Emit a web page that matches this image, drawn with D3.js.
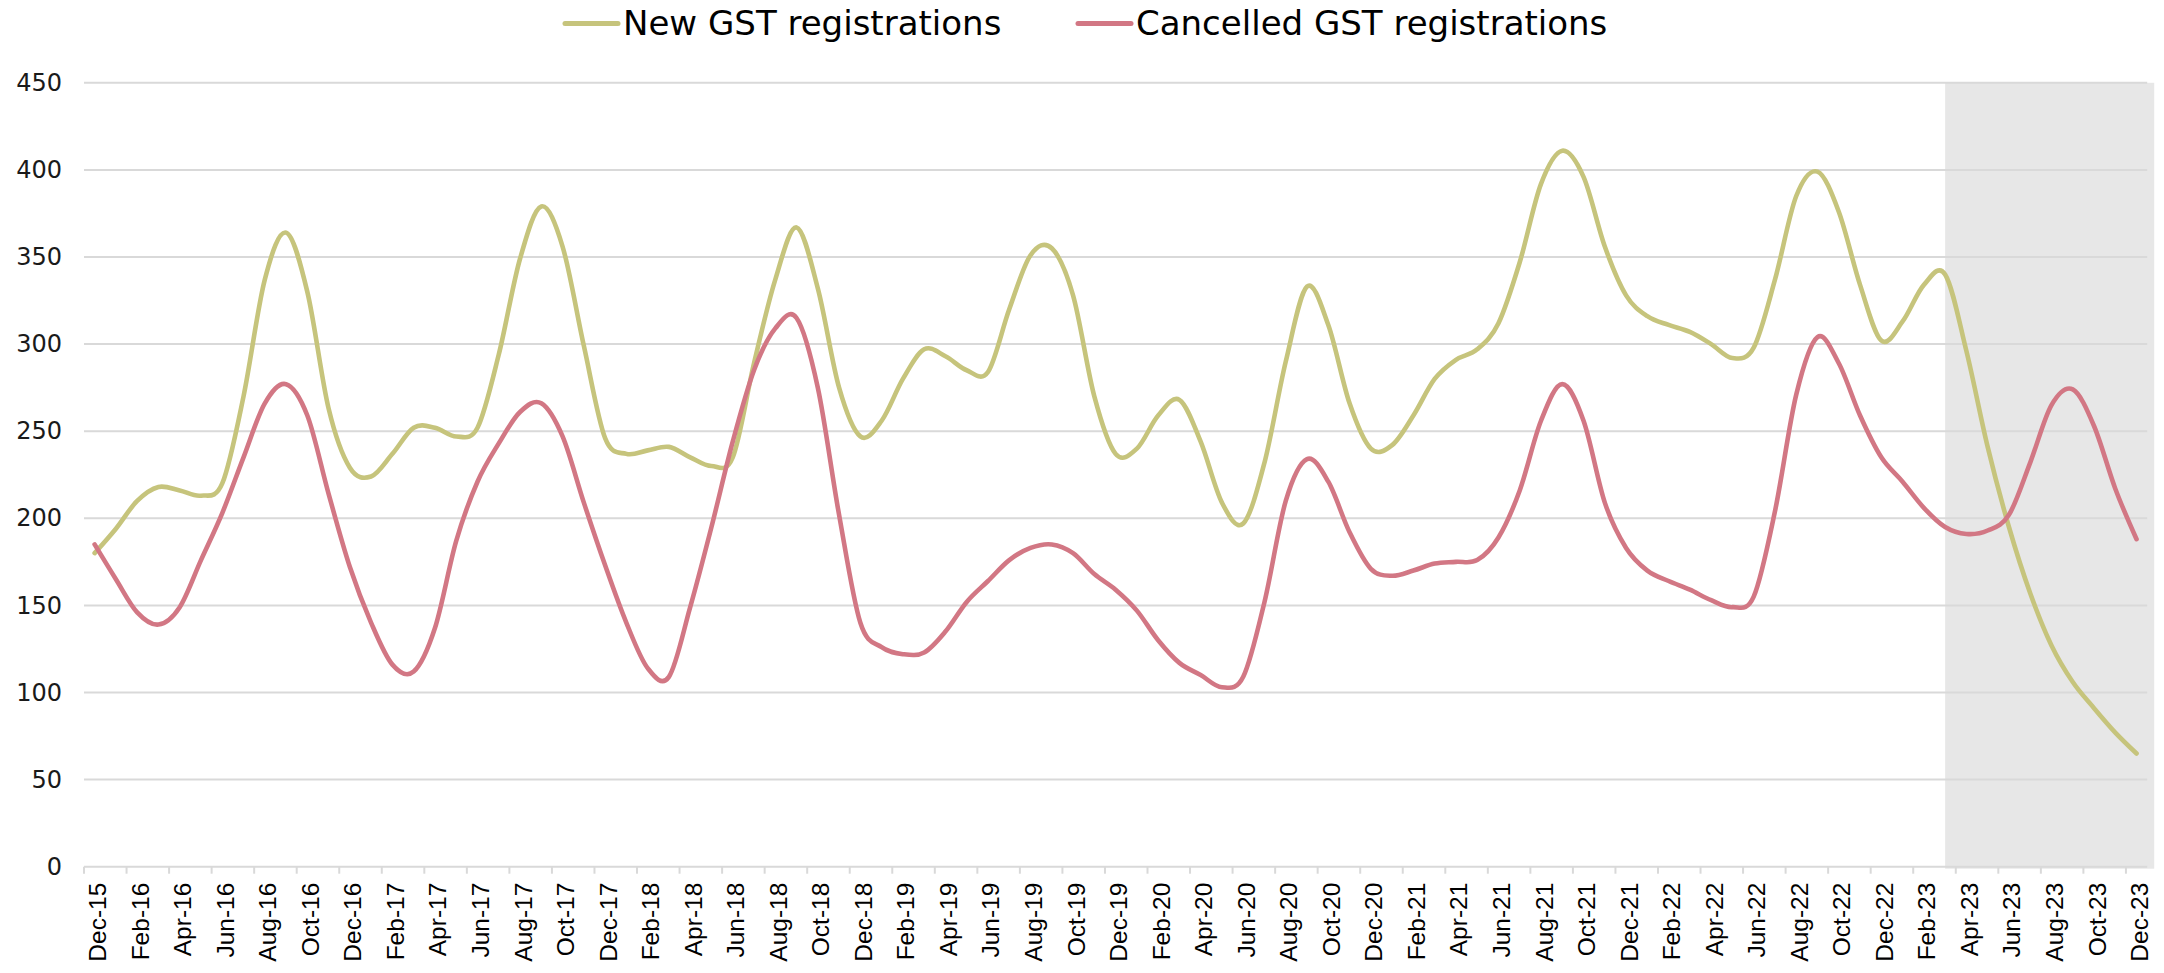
<!DOCTYPE html>
<html>
<head>
<meta charset="utf-8">
<script src="https://cdn.jsdelivr.net/npm/d3@7"></script>
<style>
  html, body { margin: 0; padding: 0; background: #ffffff; }
  svg { display: block; }
</style>
</head>
<body>
<svg id="chart" width="2164" height="973"></svg>
<script>
// Monthly GST registrations, Dec-2015 to Dec-2023
const newRegistrations = [
  180, 194, 210, 218, 216, 213, 220, 270, 337, 364, 330, 263,
  229, 224, 237, 252, 252, 247, 252, 294, 349, 379, 356, 299,
  246, 237, 239, 241, 235, 230, 235, 289, 337, 367, 332, 275,
  247, 256, 280, 297, 293, 285, 284, 320, 351, 355, 328, 270,
  237, 240, 259, 268, 244, 209, 197, 232, 290, 333, 311, 266,
  240, 242, 259, 280, 291, 297, 312, 347, 392, 411, 396, 356,
  328, 316, 311, 307, 300, 292, 298, 337, 385, 399, 376, 334,
  302, 313, 334, 340, 296, 241, 195, 157, 127, 106, 91, 77,
  65
];
const cancelledRegistrations = [
  185, 165, 146, 139, 149, 176, 203, 235, 266, 277, 259, 214,
  172, 140, 116, 112, 137, 187, 221, 243, 261, 266, 247, 209,
  173, 140, 114, 109, 149, 195, 244, 285, 309, 315, 275, 202,
  140, 126, 122, 123, 135, 152, 164, 176, 183, 185, 180, 168,
  159, 147, 130, 117, 110, 103, 109, 152, 210, 234, 221, 192,
  171, 167, 170, 174, 175, 176, 189, 216, 256, 277, 256, 209,
  183, 170, 164, 159, 153, 149, 155, 204, 271, 304, 289, 259,
  235, 221, 206, 195, 191, 193, 202, 232, 265, 274, 253, 217,
  188
];
const tickLabels = [
  "Dec-15", "Feb-16", "Apr-16", "Jun-16", "Aug-16", "Oct-16", "Dec-16",
  "Feb-17", "Apr-17", "Jun-17", "Aug-17", "Oct-17", "Dec-17",
  "Feb-18", "Apr-18", "Jun-18", "Aug-18", "Oct-18", "Dec-18",
  "Feb-19", "Apr-19", "Jun-19", "Aug-19", "Oct-19", "Dec-19",
  "Feb-20", "Apr-20", "Jun-20", "Aug-20", "Oct-20", "Dec-20",
  "Feb-21", "Apr-21", "Jun-21", "Aug-21", "Oct-21", "Dec-21",
  "Feb-22", "Apr-22", "Jun-22", "Aug-22", "Oct-22", "Dec-22",
  "Feb-23", "Apr-23", "Jun-23", "Aug-23", "Oct-23", "Dec-23"
];
const yTicks = [0, 50, 100, 150, 200, 250, 300, 350, 400, 450];
const shadedFrom = "Mar-23";

const seriesNames = ["New GST registrations", "Cancelled GST registrations"];
const seriesColors = ["#C6C47C", "#D27784"];

// monthly category keys
const fmt = d3.timeFormat("%b-%y");
const months = d3.timeMonth.range(new Date(2015, 11, 1), new Date(2024, 0, 1)).map(fmt);

const svg = d3.select("#chart");
const plot = { left: 84, right: 2147.2, top: 82.8, bottom: 866.7 };

const x = d3.scaleBand().domain(months).range([plot.left, plot.right]).padding(0);
const bw = x.bandwidth();
const cx = k => x(k) + bw / 2;
const y = d3.scaleLinear().domain([0, 450]).range([plot.bottom, plot.top]);

// shaded period
svg.append("rect")
  .attr("x", cx(shadedFrom))
  .attr("y", y(450))
  .attr("width", plot.right + 7 - cx(shadedFrom))
  .attr("height", y(0) - y(450) + 2)
  .attr("fill", "#E7E7E7");

// gridlines
svg.append("g").selectAll("line").data(yTicks).join("line")
  .attr("x1", plot.left).attr("x2", plot.right)
  .attr("y1", d => y(d)).attr("y2", d => y(d))
  .attr("stroke", "#D9D9D9").attr("stroke-width", 2);

// y axis labels
const yAxis = svg.append("g")
  .attr("transform", `translate(${plot.left},0)`)
  .call(d3.axisLeft(y).tickValues(yTicks).tickSize(0).tickPadding(22));
yAxis.select(".domain").remove();
yAxis.selectAll("text")
  .attr("font-family", "'DejaVu Sans', sans-serif")
  .attr("font-size", 24)
  .attr("fill", "#1a1a1a");

// x tick marks at the start of each labelled month
svg.append("g").selectAll("line").data(tickLabels).join("line")
  .attr("x1", d => x(d)).attr("x2", d => x(d))
  .attr("y1", y(0)).attr("y2", y(0) + 7)
  .attr("stroke", "#D9D9D9").attr("stroke-width", 2);

// x labels
svg.append("g").selectAll("text").data(tickLabels).join("text")
  .attr("transform", d => `translate(${cx(d) + 3},${y(0) + 16}) rotate(-90)`)
  .attr("text-anchor", "end")
  .attr("dominant-baseline", "central")
  .attr("font-family", "'Liberation Sans', Arial, sans-serif")
  .attr("font-size", 24.5)
  .attr("fill", "#000")
  .text(d => d);

// lines
const line = d3.line()
  .x((d, i) => cx(months[i]))
  .y(d => y(d))
  .curve(d3.curveCatmullRom.alpha(0));

[newRegistrations, cancelledRegistrations].forEach((vals, s) => {
  svg.append("path")
    .datum(vals)
    .attr("d", line)
    .attr("fill", "none")
    .attr("stroke", seriesColors[s])
    .attr("stroke-width", 4.6)
    .attr("stroke-linecap", "round")
    .attr("stroke-linejoin", "round");
});

// legend
const legendX = [565, 1078];
seriesNames.forEach((name, s) => {
  const g = svg.append("g").attr("transform", `translate(${legendX[s]},0)`);
  g.append("line")
    .attr("x1", 0).attr("x2", 53)
    .attr("y1", 23.5).attr("y2", 23.5)
    .attr("stroke", seriesColors[s])
    .attr("stroke-width", 5)
    .attr("stroke-linecap", "round");
  g.append("text")
    .attr("x", 58).attr("y", 35)
    .attr("font-family", "'DejaVu Sans', sans-serif")
    .attr("font-size", 34)
    .attr("fill", "#000")
    .text(name);
});
</script>
</body>
</html>
